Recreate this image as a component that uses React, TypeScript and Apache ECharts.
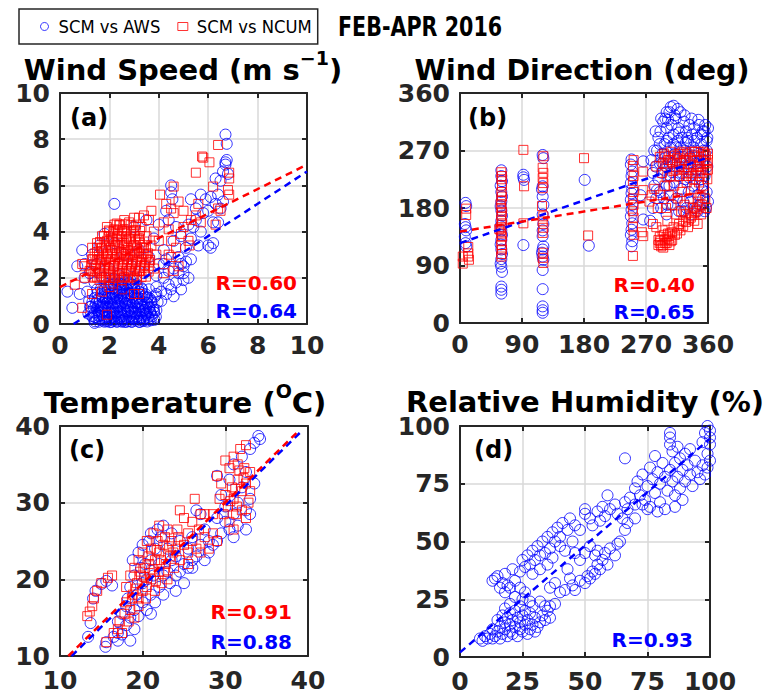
import React, { useEffect, useRef } from "react";
import * as echarts from "echarts";

// ---------- DATA ----------
const seriesNames = ["SCM vs AWS", "SCM vs NCUM"];
const panelTitles = ["Wind Speed (m s", "Wind Direction (deg)", "Temperature (", "Relative Humidity (%)"];
const panelLabels = ["(a)", "(b)", "(c)", "(d)"];
const rAWS = ["R=0.64", "R=0.65", "R=0.88", "R=0.93"];
const rNCUM = ["R=0.60", "R=0.40", "R=0.91"];
const headerText = "FEB-APR 2016";

// (a) Wind speed
const wsAWS = [
  [1.42,0.12],[1.58,0.1],[1.72,0.16],[1.88,0.12],[2.03,0.08],[2.18,0.15],[2.31,0.11],[2.48,0.14],[2.63,0.09],[2.78,0.13],[2.91,0.1],[3.08,0.15],[3.23,0.09],[3.37,0.13],[3.53,0.11],[3.67,0.16],[3.82,0.18],
  [1.3,0.34],[1.47,0.29],[1.61,0.35],[1.78,0.3],[1.93,0.33],[2.07,0.28],[2.23,0.35],[2.37,0.31],[2.53,0.33],[2.67,0.29],[2.83,0.34],[2.97,0.3],[3.13,0.33],[3.27,0.28],[3.43,0.35],[3.57,0.3],[3.73,0.33],[3.88,0.31],
  [1.24,0.53],[1.41,0.49],[1.55,0.55],[1.71,0.5],[1.85,0.54],[2.01,0.48],[2.15,0.55],[2.31,0.5],[2.45,0.53],[2.61,0.49],[2.75,0.55],[2.91,0.5],[3.05,0.54],[3.21,0.48],[3.35,0.55],[3.51,0.5],[3.65,0.53],[3.81,0.49],
  [1.22,0.74],[1.37,0.69],[1.53,0.75],[1.67,0.7],[1.83,0.73],[1.97,0.68],[2.13,0.75],[2.27,0.7],[2.43,0.74],[2.57,0.69],[2.73,0.75],[2.87,0.7],[3.03,0.73],[3.17,0.68],[3.33,0.75],[3.47,0.7],[3.63,0.74],[3.77,0.7],
  [1.31,0.94],[1.45,0.89],[1.61,0.95],[1.75,0.9],[1.91,0.93],[2.05,0.88],[2.21,0.95],[2.35,0.9],[2.51,0.94],[2.65,0.89],[2.81,0.95],[2.95,0.9],[3.11,0.93],[3.25,0.88],[3.41,0.95],[3.55,0.9],[3.71,0.93],
  [1.41,1.13],[1.55,1.09],[1.71,1.15],[1.85,1.1],[2.01,1.13],[2.15,1.08],[2.31,1.15],[2.45,1.1],[2.61,1.14],[2.75,1.09],[2.91,1.15],[3.05,1.1],[3.21,1.13],[3.35,1.08],[3.51,1.15],[3.64,1.1],
  [1.52,1.33],[1.67,1.29],[1.83,1.35],[1.97,1.3],[2.13,1.33],[2.27,1.28],[2.43,1.35],[2.57,1.3],[2.73,1.34],[2.87,1.29],[3.03,1.35],[3.17,1.3],[3.33,1.33],[3.47,1.28],
  [1.66,1.53],[1.81,1.49],[1.95,1.55],[2.11,1.5],[2.25,1.53],[2.41,1.48],[2.55,1.55],[2.71,1.5],[2.85,1.54],[3.01,1.49],[3.15,1.55],[3.31,1.5],
  [1.9,1.73],[2.05,1.69],[2.19,1.75],[2.35,1.7],[2.49,1.73],[2.65,1.68],[2.79,1.75],[2.95,1.7],[3.1,1.72],
  [2.2,1.93],[2.36,1.88],[2.52,1.94],[2.68,1.9],[2.84,1.92],
  [1.4,0.3],[1.5,0.6],[1.5,1.0],[1.6,0.2],[1.6,0.8],[1.7,0.4],[1.7,1.2],[1.8,0.1],[1.8,0.6],[1.8,1.5],[1.9,0.3],[1.9,0.9],[2.0,0.2],[2.0,0.5],[2.0,1.1],[2.0,1.6],[2.1,0.1],[2.1,0.7],[2.1,1.3],[2.2,0.3],[2.2,0.9],[2.2,1.6],[2.3,0.1],[2.3,0.5],[2.3,1.1],[2.4,0.2],[2.4,0.8],[2.4,1.4],[2.5,0.1],[2.5,0.4],[2.5,1.0],[2.5,1.7],[2.6,0.2],[2.6,0.6],[2.6,1.2],[2.7,0.1],[2.7,0.8],[2.7,1.5],[2.8,0.3],[2.8,1.0],[2.8,1.8],[2.9,0.1],[2.9,0.5],[2.9,1.3],[3.0,0.2],[3.0,0.8],[3.0,1.6],[3.1,0.3],[3.1,1.1],[3.2,0.1],[3.2,0.6],[3.2,1.4],[3.3,0.3],[3.3,0.9],[3.4,0.2],[3.4,0.6],[3.4,1.2],[3.5,0.4],[3.5,0.9],[3.6,0.2],[3.6,0.7],[3.7,0.4],[3.7,1.0],[3.8,0.6],
  [1.55,0.35],[1.75,0.75],[1.95,0.15],[2.15,0.45],[2.35,0.75],[2.45,0.3],[2.65,0.9],[2.85,0.6],[3.05,0.45],[3.25,0.85],[3.45,0.45],[3.65,0.5],[2.55,0.15],[2.95,0.25],[3.35,0.15],[1.85,1.05],[2.25,1.25],[2.75,1.25],[3.15,0.95],[3.55,1.15],
  [1.4,0.05],[1.5,1.5],[2.1,1.7],[2.4,1.75],[2.9,1.7],[3.3,1.55],[3.6,1.5],[1.25,0.75],[1.35,0.25],[3.9,0.6],[1.15,0.45],[1.18,1.0],[3.95,0.95],[3.85,1.2],
  [0.3,1.4],[0.5,0.7],[0.7,2.5],[0.8,1.3],[0.9,3.2],[1.0,2.0],[1.1,1.4],[1.0,2.6],[1.2,2.2],[1.3,3.0],[1.4,1.8],[1.5,2.6],[1.6,3.4],[1.7,2.0],[1.8,3.9],[2.0,2.4],[2.2,3.5],[2.4,2.1],[2.6,3.0],[2.9,2.5],[3.0,4.2],[3.2,3.2],[3.4,2.2],[3.5,4.5],[3.6,2.9],[3.8,3.7],[3.9,2.1],[3.9,1.6],[4.0,2.6],[4.0,4.3],[4.1,1.4],[4.2,3.2],[4.2,2.0],[4.3,2.8],[4.4,1.7],[4.4,4.5],[4.5,6.0],[4.5,5.7],[4.55,5.4],[4.6,2.4],[4.6,3.6],[4.7,1.8],[4.7,4.2],[4.8,2.9],[4.8,2.2],[4.9,3.8],[5.0,2.5],[5.0,1.9],[5.1,2.7],[5.1,3.3],[5.2,4.3],[5.3,2.8],[5.3,3.7],[5.5,4.5],[5.5,5.0],[5.6,3.4],[5.7,4.0],[5.8,4.8],[5.9,5.4],[6.0,4.9],[6.0,3.4],[6.1,3.3],[6.2,3.5],[6.1,5.5],[6.2,4.4],[6.3,5.2],[6.3,6.3],[6.4,4.4],[6.4,5.6],[6.5,5.0],[6.5,6.2],[6.6,5.3],[6.6,6.6],[6.7,7.0],[6.7,6.9],[6.75,7.1],[6.75,7.8],[6.7,8.2],[6.8,6.5],[5.3,5.4],[5.7,5.6],[2.2,5.2],[4.3,4.9],[5.4,4.2],[3.9,1.3],[4.1,1.0],[4.3,1.3],[4.9,1.5],[5.2,2.0],[4.6,1.2],[4.4,2.3],[4.5,1.5],[4.9,2.6],[5.0,2.2],[4.2,2.6]
];
const wsNCUM = [
  [1.32,2.05],[1.5,2.02],[1.68,2.07],[1.86,2.03],[2.04,2.06],[2.22,2.01],[2.4,2.07],[2.58,2.03],[2.76,2.06],[2.94,2.02],[3.12,2.07],[3.3,2.03],[3.48,2.05],
  [1.25,2.3],[1.43,2.27],[1.61,2.32],[1.79,2.28],[1.97,2.31],[2.15,2.26],[2.33,2.32],[2.51,2.28],[2.69,2.31],[2.87,2.27],[3.05,2.32],[3.23,2.28],[3.41,2.31],[3.59,2.27],
  [1.28,2.55],[1.46,2.52],[1.64,2.57],[1.82,2.53],[2.0,2.56],[2.18,2.51],[2.36,2.57],[2.54,2.53],[2.72,2.56],[2.9,2.52],[3.08,2.57],[3.26,2.53],[3.44,2.56],[3.62,2.52],
  [1.33,2.8],[1.51,2.77],[1.69,2.82],[1.87,2.78],[2.05,2.81],[2.23,2.76],[2.41,2.82],[2.59,2.78],[2.77,2.81],[2.95,2.77],[3.13,2.82],[3.31,2.78],[3.49,2.81],[3.65,2.77],
  [1.4,3.05],[1.58,3.02],[1.76,3.07],[1.94,3.03],[2.12,3.06],[2.3,3.01],[2.48,3.07],[2.66,3.03],[2.84,3.06],[3.02,3.02],[3.2,3.07],[3.38,3.03],[3.56,3.06],
  [1.5,3.3],[1.68,3.27],[1.86,3.32],[2.04,3.28],[2.22,3.31],[2.4,3.26],[2.58,3.32],[2.76,3.28],[2.94,3.31],[3.12,3.27],[3.3,3.32],[3.48,3.28],
  [1.62,3.55],[1.8,3.52],[1.98,3.57],[2.16,3.53],[2.34,3.56],[2.52,3.51],[2.7,3.57],[2.88,3.53],[3.06,3.56],[3.24,3.52],[3.42,3.57],
  [1.78,3.8],[1.96,3.77],[2.14,3.82],[2.32,3.78],[2.5,3.81],[2.68,3.76],[2.86,3.82],[3.04,3.78],[3.22,3.81],
  [1.98,4.05],[2.16,4.02],[2.34,4.07],[2.52,4.03],[2.7,4.06],[2.88,4.01],[3.06,4.07],[3.24,4.03],
  [2.2,4.3],[2.42,4.27],[2.64,4.32],[2.86,4.28],[3.08,4.3],
  [1.2,2.3],[1.3,2.8],[1.3,3.3],[1.4,2.0],[1.4,2.6],[1.5,3.1],[1.5,3.5],[1.6,2.2],[1.6,2.8],[1.7,3.3],[1.7,3.8],[1.8,2.0],[1.8,2.5],[1.9,3.0],[1.9,3.6],[2.0,2.2],[2.0,2.7],[2.0,4.0],[2.1,3.2],[2.1,3.7],[2.2,2.0],[2.2,2.5],[2.2,4.1],[2.3,2.9],[2.3,3.4],[2.4,2.2],[2.4,3.8],[2.4,4.3],[2.5,2.6],[2.5,3.1],[2.6,2.0],[2.6,3.5],[2.6,4.0],[2.7,2.8],[2.7,3.2],[2.8,2.3],[2.8,3.7],[2.8,4.4],[2.9,2.6],[2.9,3.0],[3.0,2.0],[3.0,3.4],[3.0,4.0],[3.1,2.7],[3.1,3.1],[3.2,2.3],[3.2,3.7],[3.3,2.9],[3.3,4.2],[3.4,2.5],[3.4,3.3],[3.5,3.0],[3.5,3.8],[3.6,2.7],[3.6,4.5],[3.7,3.4],[3.8,2.4],[3.8,4.0],[3.9,3.0],[4.0,3.6],
  [1.9,4.2],[2.3,4.35],[2.6,4.5],[3.0,4.6],[2.0,1.9],[2.5,1.9],[3.1,1.9],[1.6,1.9],
  [0.6,1.7],[0.9,0.7],[1.0,2.0],[1.3,1.3],[1.0,2.5],[0.9,2.6],[1.9,0.4],[1.7,1.4],[2.15,1.75],[2.0,1.6],[3.0,1.3],[3.2,1.3],[2.5,1.5],
  [3.2,4.6],[3.4,4.7],[3.7,4.9],[4.05,5.6],[4.3,5.2],[4.5,5.0],[4.6,5.95],[4.6,4.8],[4.8,5.3],[5.0,4.9],[4.2,4.4],[4.4,4.1],[4.5,3.6],[4.7,3.3],[4.9,3.9],[5.0,4.2],[5.2,3.6],[5.25,3.4],[5.3,4.5],[5.5,4.7],[5.7,4.4],[5.6,5.2],[5.5,6.55],[5.75,7.25],[5.8,7.2],[6.05,7.0],[6.4,7.75],[6.2,5.95],[6.4,5.0],[6.5,4.9],[6.85,6.55],[6.85,6.3],[6.8,5.8],[6.85,5.6],[6.3,4.3],[4.8,2.5],[4.5,2.9],[4.2,2.2],[4.6,2.3],[4.4,3.0]
];
const wsFitAWS = [[0.55, 0], [10, 6.6]];
const wsFitNCUM = [[0, 1.6], [10, 6.9]];

// (b) Wind direction
const wdAWS = [
  [8,188],[9,183],[7,155],[8,150],[9,145],[7,135],[8,125],[9,120],
  [60,239],[60,230],[61,222],[59,215],[60,205],[61,198],[60,190],[59,183],[60,176],[61,168],[60,160],[59,152],[60,145],[61,138],[60,130],[59,123],[60,115],[61,108],[60,100],[59,93],[60,88],[61,80],[60,57],[60,52],[60,46],
  [92,232],[92,228],[93,224],[92,122],
  [120,263],[121,258],[120,214],[119,209],[120,198],[121,185],[120,170],[121,155],[120,145],[120,136],[121,120],[120,115],[119,110],[120,104],[121,99],[120,83],[120,53],[120,26],[120,20],[120,16],
  [181,224],[187,121],
  [249,256],[248,248],[250,237],[249,230],[248,219],[250,210],[249,203],[248,193],[250,185],[249,177],[248,167],[250,156],[249,146],[248,138],[250,128],[249,120],[266,253],[266,162],[262,200],
  [278,255],[280,235],[282,215],[284,245],[285,195],[286,270],[288,225],[288,290],[290,205],[290,250],[291,300],[292,180],[293,235],[294,265],[295,315],[296,195],[297,280],[298,320],[299,245],[300,215],[300,305],[301,185],[302,260],[303,290],[304,330],[305,230],[306,200],[306,275],[307,310],[308,250],[309,185],[310,340],[310,295],[311,220],[312,265],[313,320],[314,195],[315,245],[316,285],[317,305],[318,175],[318,230],[319,260],[320,330],[321,210],[322,290],[323,250],[324,190],[325,315],[326,270],[327,225],[328,300],[329,180],[330,245],[331,285],[332,205],[333,310],[334,260],[335,190],[336,235],[337,295],[338,215],[339,275],[340,305],[341,180],[342,250],[343,225],[344,290],[345,200],[346,265],[347,310],[348,185],[349,240],[350,280],[351,215],[352,300],[353,195],[354,255],[355,230],[356,310],[357,180],[358,270],[358,205],[359,290],[359,245],[360,305],[360,190],[355,175],[345,175],[335,170],[325,175],[296,240],[304,215],[314,275],[322,235],[342,270],[350,225],[286,208],[280,180],[276,160],[300,170],[312,325],[302,318],[318,298],[328,282],[338,262],[348,252],[298,258],[308,236],[332,228],[352,208],
  [284,300],[292,320],[300,330],[306,338],[316,335],[326,325],[336,320],[346,318],[355,300],[290,280],[300,285],[310,280],[320,275],[330,290],[340,285],[350,295],[358,285],[282,270],[294,250],[304,250],[314,255],[324,260],[334,250],[344,240],[354,270]
];
const wdNCUM = [
  [4,104],[4,93],[9,179],[9,169],[12,119],[12,109],[12,104],[13,99],
  [60,236],[61,230],[60,225],[61,215],[60,205],[61,198],[60,192],[59,186],[60,180],[61,174],[60,168],[60,162],[61,156],[60,150],[59,145],[60,140],[61,135],[60,128],[60,122],[61,115],[60,108],[60,104],[57,147],
  [92,271],[93,214],[92,156],
  [121,261],[120,243],[121,235],[120,227],[121,219],[120,211],[119,183],[121,167],[120,159],[121,149],[120,141],[121,110],[120,102],[121,94],
  [180,258],[186,137],
  [252,255],[251,246],[252,230],[251,222],[252,205],[251,195],[252,185],[251,175],[252,165],[251,150],[252,138],[251,105],[266,237],[266,208],[266,136],[264,142],
  [275,190],[278,200],[280,155],[282,210],[285,245],[285,150],[287,180],[288,130],[290,125],[290,260],[291,200],[292,120],[293,235],[294,145],[295,118],[296,265],[297,215],[298,125],[299,180],[300,245],[300,135],[301,160],[302,255],[303,200],[304,122],[305,230],[305,140],[306,268],[307,185],[308,130],[309,250],[310,150],[311,215],[312,262],[313,170],[314,240],[315,140],[316,195],[317,265],[318,155],[319,230],[320,250],[321,175],[322,205],[323,268],[324,160],[325,240],[326,185],[327,255],[328,170],[329,220],[330,265],[331,150],[332,240],[333,195],[334,258],[335,165],[336,230],[337,268],[338,180],[339,245],[340,210],[341,262],[342,175],[343,235],[344,255],[345,190],[346,268],[347,220],[348,245],[349,200],[350,260],[351,185],[352,235],[353,268],[354,215],[355,250],[356,195],[357,262],[358,240],[359,225],[360,255],[358,180],[360,265],[345,155],[340,160],[350,170],
  [295,250],[298,262],[305,255],[310,238],[315,258],[320,265],[325,255],[330,235],[335,248],[340,268],[345,245],[350,240],[355,265],[360,240],[300,228],[318,245],[328,230],[338,225],[348,230],[358,250],
  [288,122],[291,128],[294,122],[297,130],[300,125],[303,132],[306,128],[290,135],[296,138],[302,140],[308,142],[312,138],[316,148],[320,145],[324,152],[328,158],[332,162],[336,168],[340,172],[344,178],[348,182]
];
const wdFitAWS = [[0, 125], [360, 259]];
const wdFitNCUM = [[0, 143], [360, 206]];

// (c) Temperature
const tAWS = [
  [13.4,12.5],[13.7,14.3],[14.0,17.5],[14.3,18.5],[15.0,19.4],[15.6,19.8],[16.3,19.2],[15.5,11.2],[15.6,11.8],
  [16.5,12.5],[17.0,13.0],[17.0,14.5],[17.5,15.5],[17.5,12.8],[18.0,14.0],[18.0,16.5],[18.2,17.5],[18.5,15.0],[18.5,19.0],[18.8,22.5],[19.0,16.0],[19.0,20.5],[19.3,18.0],[19.5,23.5],[19.5,15.2],[19.8,21.5],[20.0,17.0],[20.0,19.5],[20.0,24.5],[20.3,22.0],[20.5,16.0],[20.5,20.0],[20.8,25.0],[21.0,18.0],[21.0,22.5],[21.0,26.0],[21.3,20.5],[21.5,17.0],[21.5,24.0],[21.8,26.5],[22.0,19.0],[22.0,22.0],[22.2,25.5],[22.5,18.0],[22.5,20.5],[22.5,27.0],[23.0,21.0],[23.0,24.0],[23.3,19.5],[23.5,22.5],[23.5,26.0],[24.0,20.5],[24.0,23.0],[24.5,21.0],[24.5,25.0],[25.0,22.0],[25.0,19.5],[25.5,21.5],[25.5,24.0],[26.0,22.5],[26.0,25.5],[26.5,23.0],[26.5,29.0],[27.0,24.5],[27.0,28.5],[27.5,22.5],[27.5,26.5],[28.0,23.5],[28.0,25.0],[28.5,24.5],[29.0,25.0],[29.5,26.0],[29.0,33.5],[29.5,31.0],[30.0,27.5],[30.0,29.5],[30.5,26.5],[30.5,33.0],[31.0,28.5],[31.0,35.0],[31.5,30.0],[31.5,27.0],[32.0,32.0],[32.0,36.0],[32.5,29.0],[32.5,34.0],[33.0,30.5],[33.0,37.0],[33.0,28.5],[33.5,32.5],[33.5,37.8],[34.0,38.7],[34.2,38.3],[32.5,26.5],[31.0,25.5],[29.0,28.0],[26.0,21.5],[24.0,18.5],[21.0,15.5],[19.0,13.5],[18.5,12.0],[17.0,12.0]
];
const tNCUM = [
  [13.3,15.2],[13.6,15.8],[13.9,16.5],[14.1,17.5],[14.5,18.5],[15.0,19.5],[15.8,20.2],[16.3,20.5],[15.6,11.8],
  [16.5,13.0],[17.0,13.5],[17.2,14.5],[17.5,13.0],[17.8,15.5],[18.0,17.0],[18.0,19.0],[18.3,14.5],[18.5,20.5],[18.5,16.0],[18.8,18.0],[19.0,21.5],[19.0,15.0],[19.3,19.5],[19.5,17.5],[19.5,22.5],[19.8,20.5],[20.0,18.5],[20.0,23.5],[20.3,21.5],[20.5,19.0],[20.5,25.0],[20.8,22.0],[21.0,20.0],[21.0,24.0],[21.3,26.0],[21.5,18.5],[21.5,22.5],[21.8,25.0],[22.0,21.0],[22.0,23.5],[22.0,27.0],[22.3,19.5],[22.5,24.5],[22.8,22.0],[23.0,20.0],[23.0,26.5],[23.3,23.0],[23.5,25.0],[23.8,21.5],[24.0,24.0],[24.2,26.5],[24.5,22.5],[24.5,29.0],[25.0,24.5],[25.0,28.0],[25.5,22.0],[25.5,26.0],[26.0,25.0],[26.0,27.5],[26.3,30.5],[26.5,24.0],[26.8,26.5],[27.0,28.5],[27.0,23.5],[27.5,25.5],[28.0,24.0],[28.5,26.0],[29.0,25.0],[29.0,33.5],[29.3,30.5],[29.5,32.5],[29.8,28.5],[30.0,35.5],[30.0,31.0],[30.3,29.5],[30.5,34.5],[30.5,27.5],[30.8,32.0],[31.0,36.0],[31.0,30.5],[31.3,28.5],[31.5,35.0],[31.5,33.0],[31.8,37.0],[32.0,31.5],[32.0,29.0],[32.3,34.5],[32.5,37.5],[32.5,32.5],[32.8,30.0],[33.0,34.0],[33.0,31.5],[32.5,28.0],[31.0,26.5],[28.5,28.5],[27.5,28.5],[25.5,23.5],[19.5,16.5],
  [18.7,17.5],[19.2,18.8],[19.7,21.0],[20.2,20.3],[20.7,23.0],[21.2,21.3],[21.7,23.8],[22.2,22.5],[22.7,25.5],[23.2,24.3],[23.7,23.5],[24.3,25.5],[20.4,17.5],[21.6,19.8],[22.6,21.0],[31.2,31.8],[31.7,34.2],[32.2,33.2],[30.6,30.2],[31.4,29.5]
];
const tFitAWS = [[11.4, 10], [39.2, 39.3]];
const tFitNCUM = [[11, 10], [39, 39.5]];

// (d) Relative humidity
const rhAWS = [
  [8,8],[9,7],[10,9],[11,8],[12,10],[13,8],[13,12],[14,9],[15,11],[15,16],[16,8],[16,13],[17,10],[17,18],[18,12],[18,15],[18,21],[19,9],[19,17],[20,11],[20,14],[20,19],[20,23],[21,10],[21,16],[22,13],[22,20],[23,9],[23,17],[24,12],[24,15],[24,22],[25,11],[25,18],[26,14],[26,20],[27,10],[27,16],[28,12],[28,19],[29,14],[30,11],[30,17],[31,13],[32,15],[33,18],[34,16],[35,20],[36,17],[22,26],[24,30],[26,28],[25,25],[28,24],[29,22],[32,24],[34,22],[36,22],[38,23],
  [13,33],[14,34],[15,35],[16,30],[17,32],[18,28],[18,36],[19,31],[20,30],[21,38],[22,33],[24,37],[25,42],[26,39],[27,44],[28,40],[29,46],[30,42],[31,48],[32,38],[32,44],[33,50],[34,45],[35,52],[35,40],[36,47],[37,54],[37,43],[38,50],[39,56],[40,48],[40,52],[41,58],[42,46],[43,55],[44,60],[45,50],[46,57],[48,55],[29,36],
  [40,28],[42,29],[45,31],[46,29],[48,33],[50,32],[51,35],[52,34],[53,37],[54,36],[55,40],[55,46],[56,38],[57,42],[58,45],[59,40],[60,47],[62,44],[63,49],[64,50],[66,55],[50,45],[52,48],[54,44],[48,42],[46,45],[38,32],[36,30],[43,38],[44,34],
  [50,62],[50,64],[52,60],[53,57],[55,63],[56,59],[57,65],[58,61],[60,64],[62,66],[59,70],[63,62],[65,60],[66,67],[67,64],[68,69],[67,58],[70,66],[70,60],
  [66,86],[70,73],[71,76],[72,70],[73,79],[74,68],[75,74],[76,65],[76,82],[77,77],[78,71],[78,87],[79,80],[80,67],[80,75],[81,84],[82,78],[82,64],[83,72],[84,97],[84,95],[84,92],[84,81],[85,76],[85,89],[86,70],[86,84],[87,78],[87,91],[88,73],[88,86],[89,81],[89,68],[90,88],[90,76],[91,83],[92,79],[92,90],[93,74],[94,85],[95,80],[96,77],[97,83],[98,79],[99,82],[99,88],[100,85],[100,92],[100,95],[100,98],[99,100],[98,97],[97,93],[75,64],[79,63],[73,66],[86,65]
];
const rhFit = [[0, 2], [100, 94.5]];

// axis ranges [min, max, interval]
const axisRanges = [
  [0, 10, 2],
  [0, 360, 90],
  [10, 40, 10],
  [0, 100, 25],
];

// ---------- STYLE ----------
const BLUE = "#0000ff";
const RED = "#ff0000";
const AX = "#262626";
const WIDE = '"DejaVu Sans", sans-serif';
const NARROW = '"DejaVu Sans Condensed", "Liberation Sans", sans-serif';

const grids = [
  { left: 60, top: 93, width: 247, height: 231 },
  { left: 460, top: 93, width: 248, height: 230 },
  { left: 60, top: 426, width: 248, height: 230 },
  { left: 460, top: 426, width: 250, height: 231 },
];
const xLabelMargins = [13, 13, 16, 16];

function buildAxes() {
  const xAxis: any[] = [];
  const yAxis: any[] = [];
  axisRanges.forEach(([min, max, interval], g) => {
    const line = { show: true, onZero: false, lineStyle: { color: AX, width: 2 } };
    const tick = { show: true, inside: true, length: 5, lineStyle: { color: AX, width: 2 } };
    const label = { color: AX, fontSize: 25, fontWeight: "bold", fontFamily: WIDE, lineHeight: 16 };
    const split = { show: true, lineStyle: { color: "#d9d9d9", width: 1.5 } };
    xAxis.push({ type: "value", gridIndex: g, min, max, interval, position: "bottom", axisLine: line, axisTick: tick, axisLabel: { ...label, margin: xLabelMargins[g] }, splitLine: split });
    xAxis.push({ type: "value", gridIndex: g, min, max, interval, position: "top", axisLine: line, axisTick: tick, axisLabel: { show: false }, splitLine: { show: false } });
    yAxis.push({ type: "value", gridIndex: g, min, max, interval, position: "left", axisLine: line, axisTick: tick, axisLabel: { ...label, margin: 10 }, splitLine: split });
    yAxis.push({ type: "value", gridIndex: g, min, max, interval, position: "right", axisLine: line, axisTick: tick, axisLabel: { show: false }, splitLine: { show: false } });
  });
  return { xAxis, yAxis };
}

function scatter(name: string, data: number[][], g: number, blue: boolean) {
  return {
    type: "scatter",
    name,
    xAxisIndex: 2 * g,
    yAxisIndex: 2 * g,
    data,
    symbol: blue ? "circle" : "rect",
    symbolSize: blue ? 11 : 9,
    itemStyle: { color: "rgba(0,0,0,0)", borderColor: blue ? BLUE : RED, borderWidth: 1 },
    emphasis: { disabled: true },
    z: blue ? 2 : 3,
  };
}

function fit(data: number[][], g: number, color: string) {
  return {
    type: "line",
    xAxisIndex: 2 * g,
    yAxisIndex: 2 * g,
    data,
    symbol: "none",
    lineStyle: { color, width: 2.5, type: [7, 5] },
    z: 4,
    silent: true,
  };
}

function txt(x: number, y: number, text: string, fill: string, size: number, align = "left", family = WIDE, extra: any = {}) {
  return {
    type: "text",
    x,
    y,
    z: 10,
    ...extra,
    style: { text, fill, font: `bold ${size}px ${family}`, textAlign: align, textVerticalAlign: "middle", lineHeight: Math.round(size * 0.95) },
  };
}

function supTitle(cx: number, cy: number, before: string, sup: string, after: string) {
  return {
    type: "text",
    x: cx,
    y: cy,
    z: 10,
    style: {
      text: `{a|${before}}{s|${sup}}{a|${after}}`,
      textAlign: "center",
      textVerticalAlign: "middle",
      rich: {
        a: { fontSize: 29, fontWeight: "bold", fontFamily: WIDE, fill: "#000", lineHeight: 30 },
        s: { fontSize: 19, fontWeight: "bold", fontFamily: WIDE, fill: "#000", lineHeight: 6, height: 6, verticalAlign: "top" },
      },
    },
  };
}

export default function App() {
  const ref = useRef<HTMLDivElement>(null);
  useEffect(() => {
    if (!ref.current) return;
    const chart = echarts.init(ref.current, undefined, { renderer: "svg" });
    const { xAxis, yAxis } = buildAxes();
    const option: any = {
      animation: false,
      backgroundColor: "#fff",
      grid: grids.map((g) => ({ ...g, containLabel: false })),
      xAxis,
      yAxis,
      legend: {
        left: 19,
        top: 9,
        orient: "horizontal",
        padding: [7, 6, 7, 21],
        itemGap: 17,
        itemWidth: 10,
        itemHeight: 8,
        borderColor: AX,
        borderWidth: 1.5,
        selectedMode: false,
        textStyle: { color: "#000", fontSize: 18.3, fontFamily: NARROW, lineHeight: 21, padding: [0, 0, 0, 4] },
        data: [
          { name: seriesNames[0], icon: "circle", itemStyle: { color: "rgba(0,0,0,0)", borderColor: BLUE, borderWidth: 1 } },
          { name: seriesNames[1], icon: "rect", itemStyle: { color: "rgba(0,0,0,0)", borderColor: RED, borderWidth: 1 } },
        ],
      },
      series: [
        scatter(seriesNames[0], wsAWS, 0, true),
        scatter(seriesNames[1], wsNCUM, 0, false),
        fit(wsFitAWS, 0, BLUE),
        fit(wsFitNCUM, 0, RED),
        scatter(seriesNames[0], wdAWS, 1, true),
        scatter(seriesNames[1], wdNCUM, 1, false),
        fit(wdFitAWS, 1, BLUE),
        fit(wdFitNCUM, 1, RED),
        scatter(seriesNames[0], tAWS, 2, true),
        scatter(seriesNames[1], tNCUM, 2, false),
        fit(tFitAWS, 2, BLUE),
        fit(tFitNCUM, 2, RED),
        scatter(seriesNames[0], rhAWS, 3, true),
        fit(rhFit, 3, BLUE),
      ],
      graphic: [
        txt(338, 27, headerText, "#000", 27, "left", NARROW, { scaleX: 0.85 }),
        supTitle(183, 70, panelTitles[0], "\u22121", ")"),
        txt(582, 70, panelTitles[1], "#000", 28.5, "center"),
        supTitle(185, 403, panelTitles[2], "O", "C)"),
        txt(585, 402, panelTitles[3], "#000", 29, "center"),
        txt(70, 118, panelLabels[0], "#000", 24),
        txt(468, 118, panelLabels[1], "#000", 24),
        txt(69, 450, panelLabels[2], "#000", 24),
        txt(474, 450, panelLabels[3], "#000", 24),
        txt(297, 283, rNCUM[0], RED, 20, "right"),
        txt(297, 311, rAWS[0], BLUE, 20, "right"),
        txt(695, 285, rNCUM[1], RED, 20, "right"),
        txt(695, 312, rAWS[1], BLUE, 20, "right"),
        txt(292, 612, rNCUM[2], RED, 20, "right"),
        txt(292, 642, rAWS[2], BLUE, 20, "right"),
        txt(693, 640, rAWS[3], BLUE, 20, "right"),
      ],
    };
    chart.setOption(option);
    return () => chart.dispose();
  }, []);
  return <div ref={ref} style={{ position: "absolute", left: 0, top: 0, width: 765, height: 694 }} />;
}
